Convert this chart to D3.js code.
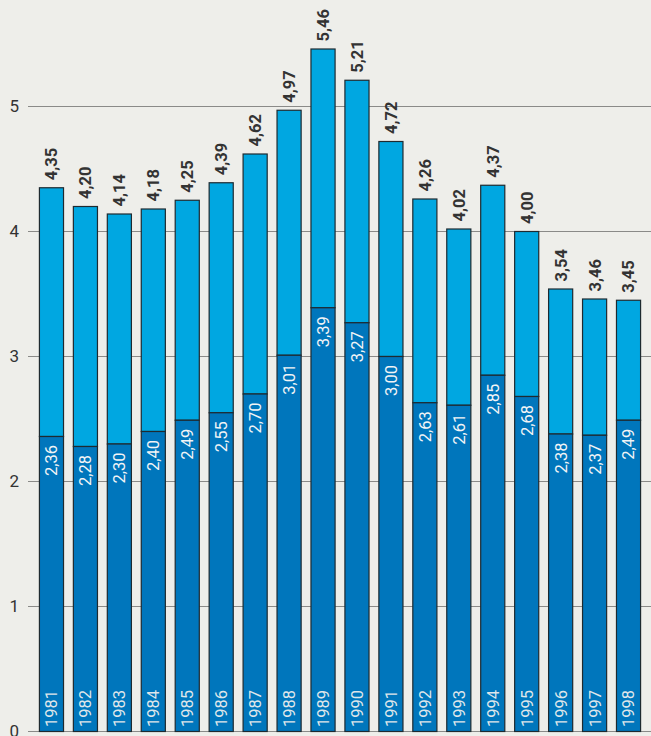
<!DOCTYPE html>
<html>
<head>
<meta charset="utf-8">
<script src="https://cdn.jsdelivr.net/npm/d3@7"></script>
<style>
  html, body { margin: 0; padding: 0; background: #eeeeea; }
  svg { display: block; font-family: Roboto, "Open Sans", sans-serif; }
</style>
</head>
<body>
<div id="chart"></div>
<script>
// ------------------------------------------------------------
// Data
// ------------------------------------------------------------
const years = ["1981", "1982", "1983", "1984", "1985", "1986", "1987", "1988", "1989",
  "1990", "1991", "1992", "1993", "1994", "1995", "1996", "1997", "1998"];
const lowerValues = [2.36, 2.28, 2.30, 2.40, 2.49, 2.55, 2.70, 3.01, 3.39,
  3.27, 3.00, 2.63, 2.61, 2.85, 2.68, 2.38, 2.37, 2.49];
const totalValues = [4.35, 4.20, 4.14, 4.18, 4.25, 4.39, 4.62, 4.97, 5.46,
  5.21, 4.72, 4.26, 4.02, 4.37, 4.00, 3.54, 3.46, 3.45];
const yTicks = [0, 1, 2, 3, 4, 5];

const width = 651, height = 736;
const fmt = v => v.toFixed(2).replace(".", ",");

const svg = d3.select("#chart").append("svg")
  .attr("width", width)
  .attr("height", height);

const x = d3.scaleBand()
  .domain(years)
  .range([34, 645])
  .paddingInner(0.29)
  .paddingOuter(0.145);

const y = d3.scaleLinear()
  .domain([0, 5])
  .range([731, 106]);

// Gridlines + tick labels
svg.append("g")
  .selectAll("line")
  .data(yTicks)
  .join("line")
  .attr("x1", 28)
  .attr("x2", width)
  .attr("y1", d => y(d) + 0.5)
  .attr("y2", d => y(d) + 0.5)
  .attr("stroke", "#8a8a88")
  .attr("stroke-width", 1);

svg.append("g")
  .selectAll("text")
  .data(yTicks)
  .join("text")
  .attr("x", 19)
  .attr("y", d => y(d))
  .attr("dy", "0.36em")
  .attr("text-anchor", "end")
  .attr("font-size", "17px")
  .attr("fill", "#333")
  .text(d => d);

// Bars
const bars = svg.append("g")
  .selectAll("g")
  .data(years.map((yr, i) => ({ yr, lower: lowerValues[i], total: totalValues[i] })))
  .join("g");

bars.append("rect")
  .attr("x", d => x(d.yr) + 0.5)
  .attr("y", d => y(d.total) + 0.5)
  .attr("width", x.bandwidth())
  .attr("height", d => y(d.lower) - y(d.total))
  .attr("fill", "#00a7e1")
  .attr("stroke", "#1e2a30")
  .attr("stroke-width", 1.2);

bars.append("rect")
  .attr("x", d => x(d.yr) + 0.5)
  .attr("y", d => y(d.lower) + 0.5)
  .attr("width", x.bandwidth())
  .attr("height", d => y(0) - y(d.lower))
  .attr("fill", "#0076bc")
  .attr("stroke", "#1e2a30")
  .attr("stroke-width", 1.2);

// Labels
const cx = d => x(d.yr) + x.bandwidth() / 2 + 0.5;

bars.append("text")
  .attr("transform", d => `translate(${cx(d)},${y(d.total) - 7}) rotate(-90)`)
  .attr("dy", "0.36em")
  .attr("text-anchor", "start")
  .attr("font-size", "16.5px")
  .attr("font-weight", "bold")
  .attr("fill", "#333")
  .text(d => fmt(d.total));

bars.append("text")
  .attr("transform", d => `translate(${cx(d)},${y(d.lower) + 9}) rotate(-90)`)
  .attr("dy", "0.36em")
  .attr("text-anchor", "end")
  .attr("font-size", "16.5px")
  .attr("fill", "#f2f4f6")
  .text(d => fmt(d.lower));

bars.append("text")
  .attr("transform", d => `translate(${cx(d)},${y(0) - 4}) rotate(-90)`)
  .attr("dy", "0.36em")
  .attr("text-anchor", "start")
  .attr("font-size", "16.5px")
  .attr("fill", "#dfe6ea")
  .text(d => d.yr);
</script>
</body>
</html>
